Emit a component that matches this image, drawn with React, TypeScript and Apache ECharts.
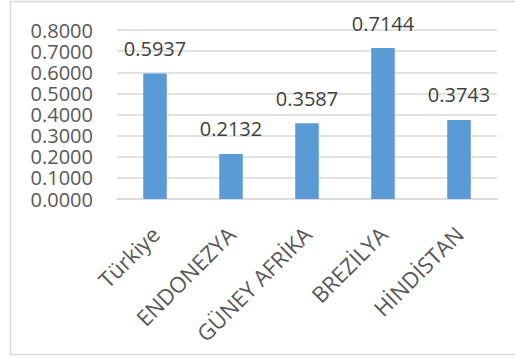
import React, { useEffect, useRef } from "react";
import * as echarts from "echarts";

const categories = ["Türkiye", "ENDONEZYA", "GÜNEY AFRİKA", "BREZİLYA", "HİNDİSTAN"];
const values = [0.5937, 0.2132, 0.3587, 0.7144, 0.3743];
const yMin = 0;
const yMax = 0.8;
const yStep = 0.1;

export default function App() {
  const ref = useRef<HTMLDivElement>(null);
  useEffect(() => {
    const chart = echarts.init(ref.current!, null, { renderer: "svg" });
    const font = "Open Sans";
    chart.setOption({
      animation: false,
      backgroundColor: "#ffffff",
      graphic: [
        {
          type: "rect",
          shape: { x: 10.5, y: 1.5, width: 520, height: 353 },
          style: { fill: "none", stroke: "#D9D9D9", lineWidth: 1.5 },
          silent: true,
        },
      ],
      grid: { left: 117, right: 18, top: 30, bottom: 159 },
      xAxis: {
        type: "category",
        data: categories,
        axisLine: { lineStyle: { color: "#D9D9D9", width: 1.5 } },
        axisTick: { show: false },
        axisLabel: {
          rotate: 45,
          margin: 31,
          padding: [16, 0, 0, 0],
          color: "#595959",
          fontFamily: font,
          fontSize: 22,
          lineHeight: 22,
          interval: 0,
        },
      },
      yAxis: {
        type: "value",
        min: yMin,
        max: yMax,
        interval: yStep,
        axisLine: { show: false },
        axisTick: { show: false },
        splitLine: { lineStyle: { color: "#D9D9D9", width: 1.5 } },
        axisLabel: {
          margin: 24,
          color: "#595959",
          fontFamily: font,
          fontSize: 20,
          lineHeight: 20,
          formatter: (v: number) => v.toFixed(4),
        },
      },
      series: [
        {
          type: "bar",
          data: values,
          barWidth: "31%",
          itemStyle: { color: "#5B9BD5" },
          label: {
            show: true,
            position: "top",
            distance: 15,
            color: "#404040",
            fontFamily: font,
            fontSize: 20,
            formatter: (p: any) => Number(p.value).toFixed(4),
          },
        },
      ],
    });
    return () => chart.dispose();
  }, []);
  return (
    <div
      ref={ref}
      style={{ position: "fixed", left: 0, top: 0, width: 515, height: 358 }}
    />
  );
}
